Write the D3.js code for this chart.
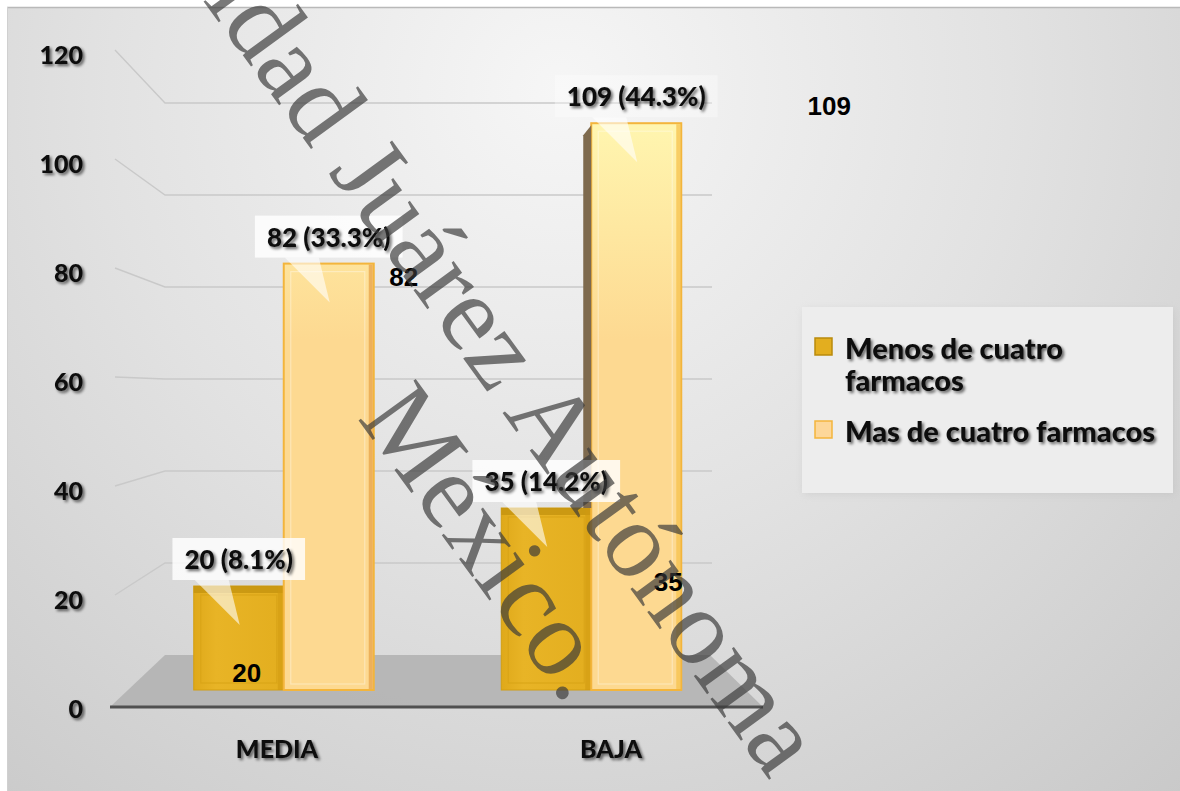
<!DOCTYPE html>
<html>
<head>
<meta charset="utf-8">
<script src="https://cdn.jsdelivr.net/npm/d3@7"></script>
<style>
  html, body { margin: 0; padding: 0; background: #ffffff; }
  svg { display: block; }
</style>
</head>
<body>
<svg id="chart" width="1180" height="791"></svg>
<script>
// ---- data ----
const categories = ["MEDIA", "BAJA"];
const seriesNames = ["Menos de cuatro farmacos", "Mas de cuatro farmacos"];
const menosValues = [20, 35];
const masValues = [82, 109];
const menosPct = ["8.1%", "14.2%"];
const masPct = ["33.3%", "44.3%"];
const yTicks = [0, 20, 40, 60, 80, 100, 120];

const seriesValues = [menosValues, masValues];
const seriesPct = [menosPct, masPct];

const svg = d3.select("#chart");
const defs = svg.append("defs");

// ---- scales (front plane, back wall, bar plane) ----
const yFront = d3.scaleLinear().domain([0, 120]).range([707, 53]);
const yBack = d3.scaleLinear().domain([0, 120]).range([655, 103]);
const yBar = d3.scaleLinear().domain([0, 120]).range([690, 66]);
const xGroup = d3.scaleBand().domain(categories).range([130, 745]);
const groupWidth = 180;
const xSeries = d3.scaleBand().domain(d3.range(seriesNames.length)).range([0, groupWidth]);
const xLabel = d3.scaleBand().domain(categories).range([110, 778]);

const wallLeft = 165, wallRight = 712, floorLeft = 110, floorRight = 763, sideX = 115;

// ---- gradients / filters ----
const bg = defs.append("radialGradient").attr("id", "bgGrad")
  .attr("gradientUnits", "userSpaceOnUse")
  .attr("cx", 560).attr("cy", 90).attr("r", 1000);
bg.append("stop").attr("offset", 0).attr("stop-color", "#f6f6f6");
bg.append("stop").attr("offset", 0.45).attr("stop-color", "#e2e2e2");
bg.append("stop").attr("offset", 1).attr("stop-color", "#c6c6c6");

const menosGrad = defs.append("linearGradient").attr("id", "menosGrad")
  .attr("x1", 0).attr("x2", 1).attr("y1", 0).attr("y2", 0);
menosGrad.append("stop").attr("offset", 0).attr("stop-color", "#dfa91a");
menosGrad.append("stop").attr("offset", 0.25).attr("stop-color", "#e8b426");
menosGrad.append("stop").attr("offset", 1).attr("stop-color", "#e3ae1f");

const masGrad = defs.append("linearGradient").attr("id", "masGrad")
  .attr("gradientUnits", "userSpaceOnUse")
  .attr("x1", 0).attr("x2", 0).attr("y1", 120).attr("y2", 340);
masGrad.append("stop").attr("offset", 0).attr("stop-color", "#fff6b0");
masGrad.append("stop").attr("offset", 1).attr("stop-color", "#fdd991");

const shadow = defs.append("filter").attr("id", "txtShadow")
  .attr("x", "-10%").attr("y", "-30%").attr("width", "130%").attr("height", "170%");
shadow.append("feGaussianBlur").attr("in", "SourceAlpha").attr("stdDeviation", 1.8).attr("result", "b");
shadow.append("feOffset").attr("in", "b").attr("dx", 1.5).attr("dy", 2).attr("result", "o");
shadow.append("feComponentTransfer").attr("in", "o").attr("result", "s")
  .append("feFuncA").attr("type", "linear").attr("slope", 0.6);
const merge = shadow.append("feMerge");
merge.append("feMergeNode").attr("in", "s");
merge.append("feMergeNode").attr("in", "SourceGraphic");

const softShadow = defs.append("filter").attr("id", "boxShadow")
  .attr("x", "-10%").attr("y", "-10%").attr("width", "120%").attr("height", "120%");
softShadow.append("feGaussianBlur").attr("stdDeviation", 4);

// ---- panel background ----
svg.append("rect").attr("x", 7).attr("y", 7).attr("width", 1173).attr("height", 784)
  .attr("fill", "url(#bgGrad)");
svg.append("line").attr("x1", 7).attr("x2", 1180).attr("y1", 7.5).attr("y2", 7.5)
  .attr("stroke", "#b9b9b9").attr("stroke-width", 1.5);
svg.append("line").attr("x1", 7.5).attr("x2", 7.5).attr("y1", 7).attr("y2", 791)
  .attr("stroke", "#d0d0d0").attr("stroke-width", 1);

// ---- gridlines: side wall diagonals + back wall ----
const grid = svg.append("g").attr("fill", "none").attr("stroke", "#c9c9c9").attr("stroke-width", 1.4);
grid.selectAll("path.grid").data(yTicks.filter(t => t > 0)).join("path")
  .attr("class", "grid")
  .attr("d", t => `M${sideX},${yFront(t) - 3}L${wallLeft},${yBack(t)}L${wallRight},${yBack(t)}`);

// ---- floor ----
svg.append("path")
  .attr("d", `M${floorLeft},${yFront(0)}L${wallLeft},${yBack(0)}L${wallRight - 2},${yBack(0)}L${floorRight},${yFront(0)}Z`)
  .attr("fill", "#b2b2b2").attr("opacity", 0.9);
svg.append("line").attr("x1", floorLeft).attr("x2", floorRight)
  .attr("y1", yFront(0)).attr("y2", yFront(0))
  .attr("stroke", "#505050").attr("stroke-width", 3);

// ---- bars ----
const bars = [];
categories.forEach((c, i) => {
  seriesNames.forEach((s, k) => {
    const x0 = xGroup(c) + (xGroup.bandwidth() - groupWidth) / 2 + xSeries(k);
    bars.push({
      cat: c, ci: i, si: k, v: seriesValues[k][i], pct: seriesPct[k][i],
      x0: x0, x1: x0 + xSeries.bandwidth()
    });
  });
});

const barG = svg.append("g");
bars.forEach(b => {
  const top = yBar(b.v), base = yBar(0);
  const g = barG.append("g");
  if (b.si === 0) {
    g.append("rect").attr("x", b.x0).attr("y", top).attr("width", b.x1 - b.x0).attr("height", base - top)
      .attr("fill", "url(#menosGrad)").attr("stroke", "#d29e12").attr("stroke-width", 1);
    g.append("rect").attr("x", b.x0).attr("y", top).attr("width", b.x1 - b.x0).attr("height", 7)
      .attr("fill", "#c4930f").attr("opacity", 0.8);
    g.append("rect").attr("x", b.x0 + 7).attr("y", top + 9).attr("width", b.x1 - b.x0 - 14).attr("height", base - top - 16)
      .attr("fill", "none").attr("stroke", "#d7a316").attr("stroke-width", 1.2).attr("opacity", 0.8);
    g.append("rect").attr("x", b.x1 - 6).attr("y", top).attr("width", 6).attr("height", base - top)
      .attr("fill", "#d09a10").attr("opacity", 0.6);
  } else {
    g.append("rect").attr("x", b.x0).attr("y", top).attr("width", b.x1 - b.x0).attr("height", base - top)
      .attr("fill", "url(#masGrad)").attr("stroke", "#f3b53c").attr("stroke-width", 2);
    g.append("rect").attr("x", b.x0 + 7).attr("y", top + 8).attr("width", b.x1 - b.x0 - 16).attr("height", base - top - 14)
      .attr("fill", "none").attr("stroke", "#ffffff").attr("stroke-width", 1.2).attr("opacity", 0.35);
    g.append("rect").attr("x", b.x1 - 5).attr("y", top + 1).attr("width", 4).attr("height", base - top - 2)
      .attr("fill", b.ci === 0 ? "#e7a24a" : "#f5c24d").attr("opacity", 0.75);
    if (b.ci === 1) {
      // visible left side face above the shorter neighbour
      const nb = bars.find(o => o.ci === b.ci && o.si === 0);
      const sTop = yBar(nb.v);
      g.append("path")
        .attr("d", `M${b.x0},${top + 2}L${b.x0 - 8},${top + 12}L${b.x0 - 8},${sTop}L${b.x0},${sTop}Z`)
        .attr("fill", "#7e6a4e");
    }
  }
});

// ---- callout labels ----
const callG = svg.append("g");
const labelFont = "Lato, 'Open Sans', sans-serif";
bars.forEach(b => {
  const cx = (b.x0 + b.x1) / 2;
  const top = yBar(b.v);
  const boxBottom = top - 6, boxTop = top - 48;
  const label = `${b.v} (${b.pct})`;
  const t = callG.append("text").attr("x", cx).attr("y", (boxTop + boxBottom) / 2)
    .attr("text-anchor", "middle").attr("dominant-baseline", "central")
    .attr("font-family", labelFont).attr("font-weight", 900).attr("font-size", 26)
    .attr("fill", "#111").text(label);
  const w = t.node().getComputedTextLength() + 24;
  callG.insert("path", "text")
    .attr("d", `M${cx - 44},${boxBottom}L${cx - 10},${boxBottom}L${cx + 1},${boxBottom + 45}Z`)
    .attr("fill", "#ffffff").attr("opacity", 0.6);
  callG.insert("rect", "text")
    .attr("x", cx - w / 2).attr("y", boxTop).attr("width", w).attr("height", boxBottom - boxTop)
    .attr("fill", "#ffffff").attr("opacity", b.si === 1 && b.ci === 1 ? 0.35 : 0.82);
  t.attr("filter", "url(#txtShadow)");
});

// ---- plain value labels ----
const plainPos = [
  b => [(b.x0 + b.x1) / 2 + 8, yBar(0) - 8],
  b => [b.x1 + 30, yBar(b.v) + 22],
  b => [b.x1 + 77, yBar(b.v) + 83],
  b => [b.x1 + 148, yBar(b.v) - 8]
];
svg.append("g").selectAll("text").data(bars).join("text")
  .attr("x", (b, i) => plainPos[i](b)[0])
  .attr("y", (b, i) => plainPos[i](b)[1])
  .attr("text-anchor", "middle")
  .attr("font-family", "'Liberation Sans', Arial, sans-serif").attr("font-weight", 700)
  .attr("font-size", 26).attr("fill", "#000")
  .text(b => b.v);

// ---- axes ----
const yAxisG = svg.append("g").attr("transform", "translate(86,2)")
  .call(d3.axisLeft(yFront).tickValues(yTicks).tickSize(0).tickPadding(3));
yAxisG.select(".domain").remove();
yAxisG.selectAll("text")
  .attr("font-family", labelFont).attr("font-weight", 900).attr("font-size", 25)
  .attr("fill", "#111").attr("filter", "url(#txtShadow)");

const xAxisG = svg.append("g").attr("transform", "translate(0,740)")
  .call(d3.axisBottom(xLabel).tickSize(0).tickPadding(0));
xAxisG.select(".domain").remove();
xAxisG.selectAll("text")
  .attr("font-family", labelFont).attr("font-weight", 900).attr("font-size", 25)
  .attr("fill", "#111").attr("filter", "url(#txtShadow)");

// ---- legend ----
const leg = svg.append("g");
leg.append("rect").attr("x", 804).attr("y", 310).attr("width", 370).attr("height", 184)
  .attr("fill", "#b0b0b0").attr("opacity", 0.35).attr("filter", "url(#boxShadow)");
leg.append("rect").attr("x", 802).attr("y", 307).attr("width", 371).attr("height", 186)
  .attr("fill", "#ededed");
const legendRows = [
  { lines: ["Menos de cuatro", "farmacos"], fill: "#e3ae1f", stroke: "#b98a0c", y: 347 },
  { lines: ["Mas de cuatro farmacos"], fill: "#fdd799", stroke: "#f3b53c", y: 430 }
];
legendRows.forEach(r => {
  leg.append("rect").attr("x", 815).attr("y", r.y - 9).attr("width", 17).attr("height", 17)
    .attr("fill", r.fill).attr("stroke", r.stroke).attr("stroke-width", 1.5);
  const t = leg.append("text").attr("x", 845).attr("y", r.y)
    .attr("dominant-baseline", "central")
    .attr("font-family", labelFont).attr("font-weight", 900).attr("font-size", 29)
    .attr("fill", "#111").attr("filter", "url(#txtShadow)");
  r.lines.forEach((ln, j) => t.append("tspan").attr("x", 845).attr("dy", j === 0 ? 0 : 32).text(ln));
});

// ---- watermark ----
const wm = svg.append("g").attr("transform", "translate(220,24) rotate(54)")
  .attr("font-family", "'Liberation Serif', 'Times New Roman', serif")
  .attr("font-size", 108).attr("fill", "#3a3a3a").attr("opacity", 0.68);
wm.append("text").attr("x", 0).attr("y", 0).attr("text-anchor", "end").text("Universi");
wm.append("text").attr("x", 0).attr("y", 0).text("dad Juárez Autónoma");
wm.append("text").attr("x", 399).attr("y", 121).text("México.");
</script>
</body>
</html>
